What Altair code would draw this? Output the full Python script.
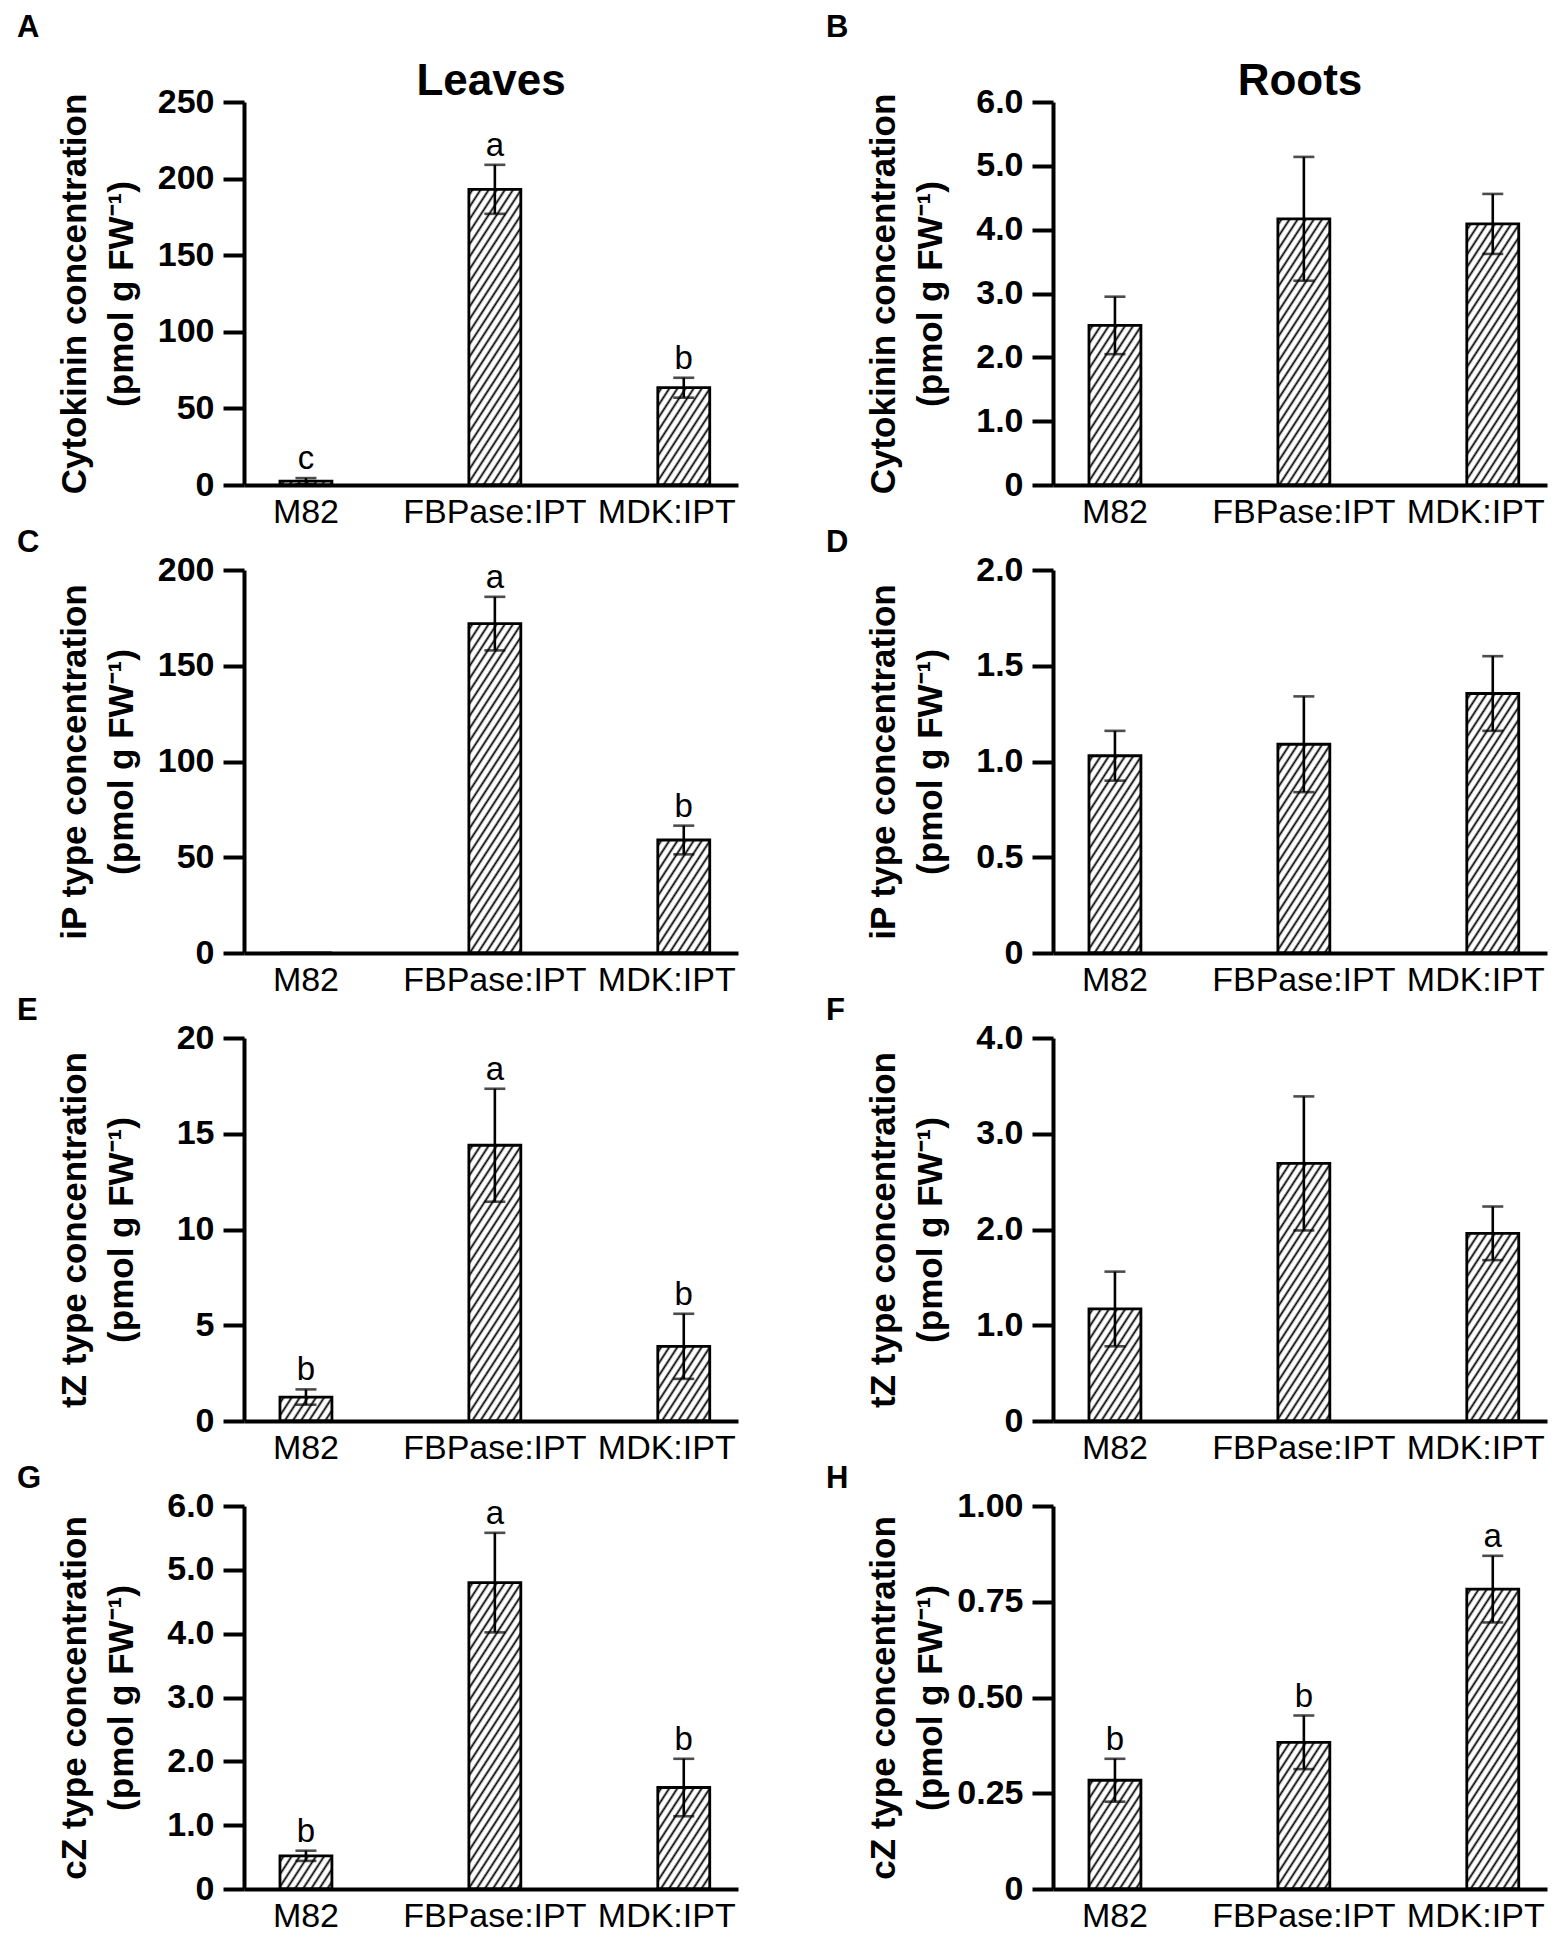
import urllib.parse
import altair as alt
import pandas as pd

# ---------------- data ----------------
CATEGORIES = ["M82", "FBPase:IPT", "MDK:IPT"]

A_MEAN = [2.5, 193.0, 63.5]
A_ERR = [2.0, 16.0, 6.5]
A_SIG = ["c", "a", "b"]
A_TICKS = [0, 50, 100, 150, 200, 250]

B_MEAN = [2.50, 4.17, 4.09]
B_ERR = [0.45, 0.97, 0.47]
B_SIG = ["", "", ""]
B_TICKS = [0, 1, 2, 3, 4, 5, 6]

C_MEAN = [0.0, 172.0, 59.0]
C_ERR = [0.0, 14.0, 7.5]
C_SIG = ["", "a", "b"]
C_TICKS = [0, 50, 100, 150, 200]

D_MEAN = [1.03, 1.09, 1.355]
D_ERR = [0.13, 0.25, 0.195]
D_SIG = ["", "", ""]
D_TICKS = [0, 0.5, 1.0, 1.5, 2.0]

E_MEAN = [1.25, 14.4, 3.9]
E_ERR = [0.40, 2.95, 1.70]
E_SIG = ["b", "a", "b"]
E_TICKS = [0, 5, 10, 15, 20]

F_MEAN = [1.17, 2.69, 1.96]
F_ERR = [0.39, 0.70, 0.28]
F_SIG = ["", "", ""]
F_TICKS = [0, 1, 2, 3, 4]

G_MEAN = [0.52, 4.80, 1.59]
G_ERR = [0.08, 0.78, 0.45]
G_SIG = ["b", "a", "b"]
G_TICKS = [0, 1, 2, 3, 4, 5, 6]

H_MEAN = [0.284, 0.383, 0.783]
H_ERR = [0.056, 0.070, 0.087]
H_SIG = ["b", "b", "a"]
H_TICKS = [0, 0.25, 0.50, 0.75, 1.00]

UNIT = "(pmol g FW\u207b\u00b9)"

# ---------------- style ----------------
SANS = "Liberation Sans, Arial, Helvetica, sans-serif"
NARROW = "Liberation Sans Narrow, Arial Narrow, Liberation Sans, sans-serif"
W, H = 494, 383

HATCH_SVG = (
    '<svg xmlns="http://www.w3.org/2000/svg">'
    '<defs><pattern id="h" patternUnits="userSpaceOnUse" width="6.8" height="6.8" '
    'patternTransform="rotate(33)">'
    '<rect x="2.4" y="-1" width="1.8" height="9" fill="black"/></pattern></defs>'
    '<rect width="100%" height="100%" fill="url(#h)"/></svg>'
)
HATCH_URL = "data:image/svg+xml;charset=utf-8," + urllib.parse.quote(HATCH_SVG)


def panel(letter, mean, err, sig, ticks, decimals, title_line, heading=None, letter_y=-18):
    df = pd.DataFrame({"genotype": CATEGORIES, "mean": mean, "err": err, "sig": sig})
    base = alt.Chart(df).transform_calculate(
        lo="datum.mean - datum.err", hi="datum.mean + datum.err"
    )
    if decimals == 0:
        label_expr = "format(datum.value, 'd')"
    else:
        label_expr = f"datum.value == 0 ? '0' : format(datum.value, '.{decimals}f')"

    x_main = alt.X(
        "genotype:N",
        sort=CATEGORIES,
        scale=alt.Scale(paddingInner=0.725, paddingOuter=0.17, align=0.56),
        axis=alt.Axis(
            title=None, ticks=False, labelAngle=0, labelFontSize=34, labelFont=SANS,
            labelPadding=10, labelColor="black", labelLimit=500,
            domainWidth=4, domainColor="black",
            labelOffset={"condition": {"test": "datum.value === 'MDK:IPT'", "value": -17}, "value": 0},
        ),
    )
    x_plain = alt.X("genotype:N", sort=CATEGORIES)
    y_main = alt.Y(
        "mean:Q",
        scale=alt.Scale(domain=[0, ticks[-1]], nice=False, zero=True),
        axis=alt.Axis(
            values=ticks, labelExpr=label_expr, title=[title_line, UNIT],
            titleX=-170, titleY=H / 2, titleAngle=270, titleAlign="center",
            titleBaseline="middle", titleFont=SANS, titleFontSize=35,
            titleFontWeight="bold", titleLineHeight=47, titleColor="black",
            labelFont=NARROW, labelFontSize=34, labelFontWeight="bold",
            labelColor="black", labelPadding=9, tickSize=21, tickWidth=4,
            tickColor="black", domainWidth=4, domainColor="black", grid=False,
        ),
    )

    hatch = base.mark_image(aspect=False, width={"band": 1}).encode(
        x=x_main, y=y_main, y2=alt.datum(0), url=alt.value(HATCH_URL)
    )
    outline = base.mark_bar(
        width={"band": 1}, fill="white", fillOpacity=0, stroke="black", strokeWidth=2.8
    ).encode(x=x_plain, y="mean:Q")
    eb = base.transform_filter("datum.err > 0")
    rule = eb.mark_rule(color="black", strokeWidth=2.6).encode(x=x_plain, y="lo:Q", y2="hi:Q")
    cap_hi = eb.mark_tick(color="black", size=21, thickness=2.6).encode(x=x_plain, y="hi:Q")
    cap_lo = eb.mark_tick(color="black", size=21, thickness=2.6).encode(x=x_plain, y="lo:Q")
    sig_text = base.mark_text(
        font=SANS, fontSize=33, baseline="alphabetic", dy=-9, color="black"
    ).encode(x=x_plain, y="hi:Q", text="sig:N")

    letter_df = pd.DataFrame({"t": [letter]})
    letter_mark = alt.Chart(letter_df).mark_text(
        font=SANS, fontSize=31, fontWeight="bold", align="left", baseline="alphabetic", color="black"
    ).encode(x=alt.value(-227), y=alt.value(letter_y), text="t:N")

    layers = [hatch, outline, rule, cap_hi, cap_lo, sig_text, letter_mark]
    if heading is not None:
        head_df = pd.DataFrame({"t": [heading]})
        layers.append(
            alt.Chart(head_df).mark_text(
                font=SANS, fontSize=44, fontWeight="bold", align="center",
                baseline="alphabetic", color="black"
            ).encode(x=alt.value(W / 2), y=alt.value(-7), text="t:N")
        )
    return alt.layer(*layers).properties(width=W, height=H)


pA = panel("A", A_MEAN, A_ERR, A_SIG, A_TICKS, 0, "Cytokinin concentration", "Leaves", -65)
pB = panel("B", B_MEAN, B_ERR, B_SIG, B_TICKS, 1, "Cytokinin concentration", "Roots", -65)
pC = panel("C", C_MEAN, C_ERR, C_SIG, C_TICKS, 0, "iP type concentration")
pD = panel("D", D_MEAN, D_ERR, D_SIG, D_TICKS, 1, "iP type concentration")
pE = panel("E", E_MEAN, E_ERR, E_SIG, E_TICKS, 0, "tZ type concentration")
pF = panel("F", F_MEAN, F_ERR, F_SIG, F_TICKS, 1, "tZ type concentration")
pG = panel("G", G_MEAN, G_ERR, G_SIG, G_TICKS, 1, "cZ type concentration")
pH = panel("H", H_MEAN, H_ERR, H_SIG, H_TICKS, 2, "cZ type concentration")

chart = alt.concat(
    pA, pB, pC, pD, pE, pF, pG, pH,
    columns=2,
    spacing={"row": 85, "column": 315},
    bounds="flush",
).properties(
    padding={"left": 9, "top": 4, "right": 5, "bottom": 0},
    background="white",
).configure_view(stroke=None).configure_axis(grid=False)

chart.save("out.html", embed_options={"renderer": "svg", "actions": False})
